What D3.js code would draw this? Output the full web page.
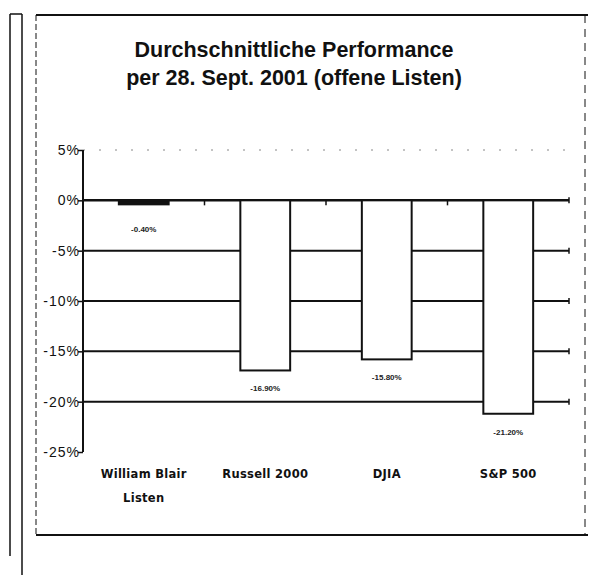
<!DOCTYPE html>
<html>
<head>
<meta charset="utf-8">
<script src="https://cdn.jsdelivr.net/npm/d3@7"></script>
<style>
	body { margin: 0; background: #fff; }
	svg { display: block; font-family: "Liberation Sans", Arial, sans-serif; }
	.frame { stroke: #111; fill: none; }
	.tick-label { font-size: 14px; letter-spacing: 1px; fill: #111; }
	.cat-label { font-family: "DejaVu Sans", sans-serif; font-size: 11.5px; font-weight: bold; letter-spacing: 0.3px; fill: #111; }
	.val-label { font-size: 8px; font-weight: bold; fill: #222; }
	.title { font-size: 21.5px; font-weight: bold; fill: #111; }
</style>
</head>
<body>
<div id="chart"></div>
<script>
const titleLines = ['Durchschnittliche Performance', 'per 28. Sept. 2001 (offene Listen)'];
const categories = ['William Blair\nListen', 'Russell 2000', 'DJIA', 'S&P 500'];
const values = [-0.4, -16.9, -15.8, -21.2];
const valueLabels = ['-0.40%', '-16.90%', '-15.80%', '-21.20%'];
const yTicks = [5, 0, -5, -10, -15, -20, -25];
const gridValues = [0, -5, -10, -15, -20];

const width = 590, height = 575;
const margin = { left: 83, right: 21, top: 150, bottom: 123 };

const svg = d3.select('#chart').append('svg')
	.attr('width', width)
	.attr('height', height);

// scan-like page frame
svg.append('line').attr('class', 'frame').attr('stroke-width', 2)
	.attr('x1', 36).attr('x2', 588).attr('y1', 15).attr('y2', 15);
svg.append('line').attr('class', 'frame').attr('stroke-width', 2)
	.attr('x1', 36).attr('x2', 588).attr('y1', 535).attr('y2', 535);
svg.append('line').attr('class', 'frame').attr('stroke-dasharray', '6,3')
	.attr('x1', 36).attr('x2', 36).attr('y1', 15).attr('y2', 535);
svg.append('line').attr('class', 'frame').attr('stroke-dasharray', '8,6').attr('stroke', '#777')
	.attr('x1', 585).attr('x2', 585).attr('y1', 15).attr('y2', 535);
svg.append('line').attr('class', 'frame').attr('stroke-width', 1.5)
	.attr('x1', 10).attr('x2', 10).attr('y1', 14).attr('y2', 556);
svg.append('line').attr('class', 'frame').attr('stroke-width', 1.5)
	.attr('x1', 22).attr('x2', 22).attr('y1', 14).attr('y2', 575);
svg.append('line').attr('class', 'frame').attr('stroke-width', 1.5)
	.attr('x1', 10).attr('x2', 22).attr('y1', 14).attr('y2', 14);

svg.selectAll('text.title').data(titleLines).join('text')
	.attr('class', 'title')
	.attr('x', 294)
	.attr('y', (d, i) => 57 + i * 28)
	.attr('text-anchor', 'middle')
	.text(d => d);

const x = d3.scaleBand()
	.domain(categories)
	.range([margin.left, width - margin.right])
	.paddingInner(0.59)
	.paddingOuter(0.295);

const y = d3.scaleLinear()
	.domain([-25, 5])
	.range([height - margin.bottom, margin.top]);

// top (5%) line is faint and dotted
svg.append('line')
	.attr('x1', margin.left).attr('x2', width - margin.right)
	.attr('y1', y(5)).attr('y2', y(5))
	.attr('stroke', '#888').attr('stroke-dasharray', '2,14');

svg.append('g').attr('class', 'grid')
	.selectAll('line').data(gridValues).join('line')
	.attr('x1', margin.left).attr('x2', width - margin.right)
	.attr('y1', d => y(d)).attr('y2', d => y(d))
	.attr('stroke', '#111')
	.attr('stroke-width', d => d === 0 ? 2.5 : 2);

// right end ticks
svg.append('g')
	.selectAll('line').data(gridValues).join('line')
	.attr('x1', width - margin.right).attr('x2', width - margin.right)
	.attr('y1', d => y(d) - 3).attr('y2', d => y(d) + 3)
	.attr('stroke', '#111').attr('stroke-width', 1.5);

// category boundary ticks on the 0% line
svg.append('g')
	.selectAll('line').data(categories.slice(1)).join('line')
	.attr('x1', d => x(d) - x.step() * x.paddingInner() / 2)
	.attr('x2', d => x(d) - x.step() * x.paddingInner() / 2)
	.attr('y1', y(0)).attr('y2', y(0) + 5)
	.attr('stroke', '#111').attr('stroke-width', 1.5);

svg.append('g').attr('class', 'bars')
	.selectAll('rect').data(values).join('rect')
	.attr('x', (d, i) => x(categories[i]))
	.attr('width', x.bandwidth())
	.attr('y', d => y(Math.max(0, d)))
	.attr('height', d => Math.abs(y(d) - y(0)))
	.attr('fill', (d, i) => i === 0 ? '#111' : '#fff')
	.attr('stroke', '#111')
	.attr('stroke-width', 2);

svg.append('g').attr('class', 'values')
	.selectAll('text').data(values).join('text')
	.attr('class', 'val-label')
	.attr('x', (d, i) => x(categories[i]) + x.bandwidth() / 2)
	.attr('y', (d, i) => y(d) + (i === 0 ? 28 : 21))
	.attr('text-anchor', 'middle')
	.text((d, i) => valueLabels[i]);

const yAxis = svg.append('g')
	.attr('transform', `translate(${margin.left},0)`)
	.call(d3.axisLeft(y).tickValues(yTicks).tickSize(5).tickFormat(d => d + '%'));
yAxis.select('.domain').attr('stroke', '#111').attr('stroke-width', 2)
	.attr('d', `M0,${y(5)}V${y(-25)}`);
yAxis.selectAll('.tick line').attr('stroke', '#111').attr('stroke-width', 1.5);
yAxis.selectAll('.tick text')
	.attr('class', 'tick-label')
	.attr('x', -3)
	.style('font-family', null).style('font-size', null);
yAxis.attr('font-size', null).attr('font-family', null);

const catG = svg.append('g').attr('class', 'categories');
categories.forEach(c => {
	const t = catG.append('text')
		.attr('class', 'cat-label')
		.attr('text-anchor', 'middle')
		.attr('x', x(c) + x.bandwidth() / 2)
		.attr('y', 478);
	c.split('\n').forEach((line, j) => {
		t.append('tspan')
			.attr('x', x(c) + x.bandwidth() / 2)
			.attr('dy', j === 0 ? 0 : 24)
			.text(line);
	});
});
</script>
</body>
</html>
